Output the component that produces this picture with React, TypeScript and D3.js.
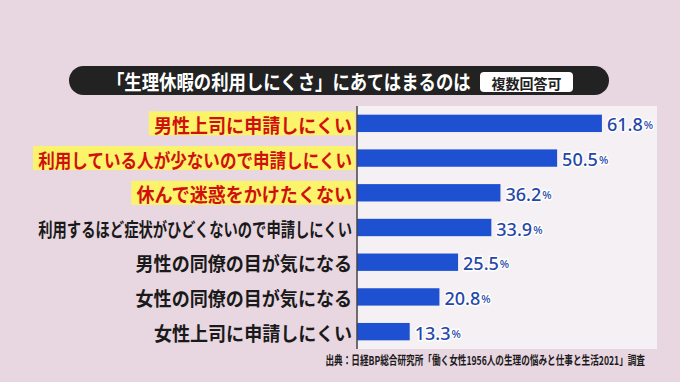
import React, { useEffect, useRef } from "react";
import * as d3 from "d3";

const categories = [
  "男性上司に申請しにくい",
  "利用している人が少ないので申請しにくい",
  "休んで迷惑をかけたくない",
  "利用するほど症状がひどくないので申請しにくい",
  "男性の同僚の目が気になる",
  "女性の同僚の目が気になる",
  "女性上司に申請しにくい",
];
const values = [61.8, 50.5, 36.2, 33.9, 25.5, 20.8, 13.3];
const highlighted = [true, true, true, false, false, false, false];
const titleText = "「生理休暇の利用しにくさ」にあてはまるのは";
const badgeText = "複数回答可";
const sourceText = "出典：日経BP総合研究所「働く女性1956人の生理の悩みと仕事と生活2021」調査";

const W = 680;
const H = 382;
const FONT = "'Noto Sans CJK JP', 'Noto Sans', sans-serif";

type Sel = d3.Selection<SVGGElement, unknown, null, undefined>;

// Draw text horizontally condensed to a given width via a transform.
function condensedText(
  parent: Sel,
  str: string,
  x: number,
  y: number,
  anchor: "start" | "end",
  width: (natural: number) => number,
  style: { size: number; fill: string; weight?: number }
) {
  const g = parent.append("g");
  const t = g.append("text")
    .attr("x", 0).attr("y", 0)
    .attr("text-anchor", anchor)
    .attr("dominant-baseline", "central")
    .attr("font-family", FONT)
    .attr("font-weight", style.weight ?? 700)
    .attr("font-size", style.size)
    .attr("fill", style.fill)
    .text(str);
  const natural = (t.node() as SVGTextElement).getComputedTextLength();
  const w = width(natural);
  const k = natural > 0 ? w / natural : 1;
  g.attr("transform", `translate(${x},${y}) scale(${k},1)`);
  return w;
}

export default function App() {
  const ref = useRef<SVGSVGElement | null>(null);

  useEffect(() => {
    const svg = d3.select(ref.current);
    svg.selectAll("*").remove();
    const root = svg.append("g") as unknown as Sel;

    const panel = { x0: 357, x1: 657, y0: 106, y1: 349 };
    const x = d3.scaleLinear().domain([0, 70]).range([panel.x0, panel.x0 + 277.4]);
    const y = d3
      .scaleBand<string>()
      .domain(categories)
      .range([panel.y0, panel.y1])
      .paddingInner(0.5)
      .paddingOuter(0.25);

    root.append("rect").attr("width", W).attr("height", H).attr("fill", "#e8d6e1");

    // Title pill
    root.append("rect")
      .attr("x", 69).attr("y", 66).attr("width", 540).attr("height", 29)
      .attr("rx", 14.5).attr("fill", "#222222");
    condensedText(root, titleText, 107, 81, "start", () => 364, { size: 20, fill: "#ffffff" });
    root.append("rect")
      .attr("x", 480).attr("y", 72).attr("width", 93).attr("height", 20)
      .attr("rx", 4).attr("fill", "#ffffff");
    root.append("text")
      .attr("x", 526.5).attr("y", 82.5)
      .attr("text-anchor", "middle")
      .attr("dominant-baseline", "central")
      .attr("fill", "#222222")
      .attr("font-family", FONT).attr("font-weight", 700).attr("font-size", 14)
      .text(badgeText);

    // Panel
    root.append("rect")
      .attr("x", panel.x0).attr("y", panel.y0)
      .attr("width", panel.x1 - panel.x0).attr("height", panel.y1 - panel.y0)
      .attr("fill", "#f4f0f3");

    // Bars
    const rows = categories.map((c, i) => ({ c, v: values[i], hl: highlighted[i] }));
    root.append("g").selectAll("rect").data(rows).join("rect")
      .attr("x", x(0))
      .attr("y", (d) => y(d.c)!)
      .attr("width", (d) => x(d.v) - x(0))
      .attr("height", y.bandwidth())
      .attr("fill", "#1e50d2");

    // Axis line
    root.append("line")
      .attr("x1", panel.x0).attr("x2", panel.x0)
      .attr("y1", panel.y0).attr("y2", panel.y1)
      .attr("stroke", "#444").attr("stroke-width", 1.5);

    // Category labels
    const labelRight = 352;
    const maxLabel = 314;
    const lg = root.append("g") as unknown as Sel;
    rows.forEach((d) => {
      const cy = y(d.c)! + y.bandwidth() / 2;
      const bg = lg.append("rect");
      const w = condensedText(
        lg, d.c, labelRight, cy + 1, "end",
        (n) => Math.min(n * 0.95, maxLabel),
        { size: 19, fill: d.hl ? "#d0100f" : "#1a1a1a" }
      );
      if (d.hl) {
        bg.attr("x", labelRight - w - 5).attr("y", cy - 12)
          .attr("width", w + 5 + (355 - labelRight)).attr("height", 24)
          .attr("fill", "#fbf46a");
      } else {
        bg.remove();
      }
    });

    // Value labels
    const vg = root.append("g");
    rows.forEach((d) => {
      const cy = y(d.c)! + y.bandwidth() / 2;
      const t = vg.append("text")
        .attr("x", x(d.v) + 5).attr("y", cy + 1)
        .attr("dominant-baseline", "central")
        .attr("font-family", "'Noto Sans', sans-serif").attr("font-weight", 500)
        .attr("fill", "#2547a8")
        .attr("stroke", "#ffffff").attr("stroke-width", 3)
        .attr("stroke-linejoin", "round")
        .attr("paint-order", "stroke");
      t.append("tspan").attr("font-size", 18).text(d.v.toFixed(1));
      t.append("tspan").attr("font-size", 11).attr("dx", 1).text("%");
    });

    // Source
    condensedText(root, sourceText, 645, 360, "end", () => 320, { size: 12, fill: "#1a1a1a" });
  }, []);

  return (
    <div style={{ position: "fixed", left: 0, top: 0, width: W, height: H }}>
      <svg ref={ref} width={W} height={H} style={{ display: "block" }} />
    </div>
  );
}
